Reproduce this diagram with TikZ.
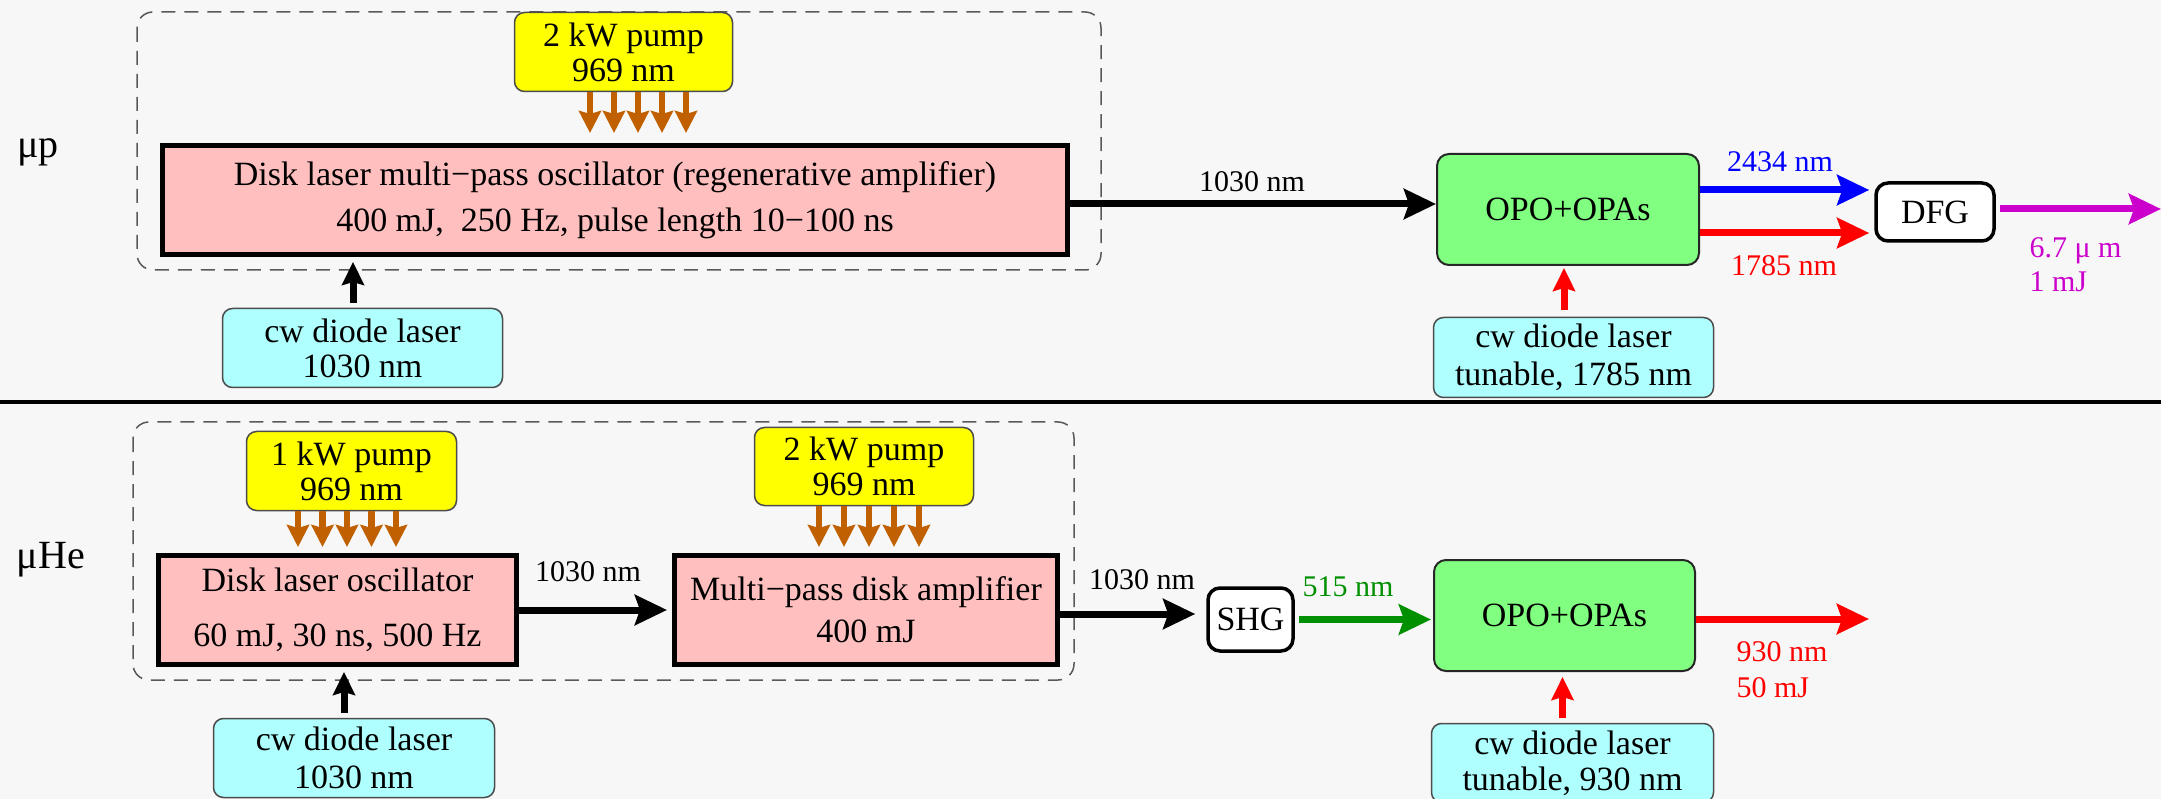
\documentclass[tikz,border=0pt]{standalone}
\usepackage{fontspec}
\setmainfont{Liberation Serif}
\usetikzlibrary{arrows.meta}
\definecolor{bg}{HTML}{F7F7F7}
\definecolor{laserpink}{HTML}{FFBFBF}
\definecolor{pumpyellow}{HTML}{FFFF00}
\definecolor{cwcyan}{HTML}{AFFFFF}
\definecolor{opogreen}{HTML}{80FF80}
\definecolor{pumpbrown}{HTML}{C06000}
\definecolor{beamgreen}{HTML}{009000}
\definecolor{beammag}{HTML}{CC00CC}

\begin{document}
\begin{tikzpicture}[x=1pt, y=-1pt,
  boxfont/.style={font=\fontsize{34}{36}\selectfont, align=center},
  lbl/.style={font=\fontsize{30}{34}\selectfont},
  pumpbox/.style={boxfont, draw=black!70, line width=1.5pt, fill=pumpyellow, rounded corners=10pt},
  lasbox/.style={boxfont, draw=black, line width=5pt, fill=laserpink},
  cwbox/.style={boxfont, draw=black!70, line width=1.5pt, fill=cwcyan, rounded corners=10pt},
  opobox/.style={boxfont, draw=black!85, line width=2pt, fill=opogreen, rounded corners=12pt},
  convbox/.style={boxfont, draw=black, line width=3.5pt, fill=white, rounded corners=12pt},
  group/.style={draw=black!65, line width=1.5pt, dash pattern=on 14pt off 9pt, rounded corners=16pt},
  beam/.style={line width=7pt, -{Stealth[length=32pt, width=30pt, inset=5pt]}},
  feed/.style={line width=7pt, -{Stealth[length=23pt, width=22pt, inset=3pt]}},
  pumpar/.style={pumpbrown, line width=6.5pt, -{Stealth[length=22pt, width=22pt, inset=3pt]}}]
  \useasboundingbox[fill=bg] (0,0) rectangle (2161,799);

  % muonic hydrogen laser
  \node[font=\fontsize{40}{40}\selectfont] (tagp) at (38,152) {μp};
  \draw[group] (137,12) rectangle (1101,270);
  \node[pumpbox, minimum width=218pt, minimum height=79pt] (pumpA)
        at (623.5,52) {2 kW pump\\[-1pt]969 nm};
  \node[lasbox, minimum width=905pt, minimum height=109pt] (mainA)
        at (615,200) {Disk laser multi−pass oscillator (regenerative amplifier)\\[10pt]400 mJ,\ \ 250 Hz, pulse length 10−100 ns};
  \node[cwbox, minimum width=280pt, minimum height=79pt] (cwA)
        at (362.5,348) {cw diode laser\\[-1pt]1030 nm};
  \node[opobox, minimum width=262pt, minimum height=111pt] (opoA)
        at (1568,209.5) {OPO+OPAs};
  \node[cwbox, minimum width=280pt, minimum height=80pt] (cwB)
        at (1573.5,357.5) {cw diode laser\\[2pt]tunable, 1785 nm};
  \node[convbox, minimum width=118pt, minimum height=58pt] (dfg)
        at (1935,212) {DFG};
  \coordinate (endA) at (2161,209);
  % labels
  \node[lbl] (lblA) at (1252,182) {1030 nm};
  \node[lbl, blue] (lblidl) at (1780,162) {2434 nm};
  \node[lbl, red] (lblsig) at (1784,266) {1785 nm};
  \node[lbl, beammag, align=left, anchor=west] (lblout) at (2026,265) {6.7 μ m\\1 mJ};
  % arrows
  \foreach \dx in {-33.5,-9.5,14.5,38.5,62.5} {
    \path ([xshift=\dx pt]pumpA.south) coordinate (pp);
    \draw[pumpar, shorten >=10pt] (pp) -- (pp |- mainA.north);
  }
  \path ([xshift=-9.5pt]cwA.north) coordinate (fa);
  \draw[feed, shorten <=5pt, shorten >=5pt] (fa) -- (fa |- mainA.south);
  \path ([yshift=-4pt]mainA.east) coordinate (ma);
  \draw[beam] (ma) -- (ma -| opoA.west);
  \path ([xshift=-9.5pt]cwB.north) coordinate (fb);
  \draw[feed, red, shorten <=7pt, shorten >=2pt] (fb) -- (fb |- opoA.south);
  \path ([yshift=19.5pt]opoA.east) coordinate (oi);
  \draw[beam, blue, shorten >=5pt] (oi) -- (oi -| dfg.west);
  \path ([yshift=-23.5pt]opoA.east) coordinate (os);
  \draw[beam, red, shorten >=5pt] (os) -- (os -| dfg.west);
  \draw[beam, beammag, shorten <=4pt] (dfg.east |- endA) -- (endA);

  \draw[line width=3.5pt] (0,402) -- (2161,402);

  % muonic helium laser
  \node[font=\fontsize{40}{40}\selectfont] (taghe) at (51,560) {μHe};
  \draw[group] (133,422) rectangle (1074,680);
  \node[pumpbox, minimum width=210pt, minimum height=79pt] (pumpB)
        at (351.5,471) {1 kW pump\\[-1pt]969 nm};
  \node[lasbox, minimum width=358pt, minimum height=109pt] (osc)
        at (337.5,610) {Disk laser oscillator\\[19pt]60 mJ, 30 ns, 500 Hz};
  \node[pumpbox, minimum width=219pt, minimum height=78pt] (pumpC)
        at (864,466.5) {2 kW pump\\[-1pt]969 nm};
  \node[lasbox, minimum width=383pt, minimum height=109pt] (amp)
        at (866,610) {Multi−pass disk amplifier\\[6pt]400 mJ};
  \node[cwbox, minimum width=281pt, minimum height=79pt] (cwC)
        at (354,758) {cw diode laser\\[2pt]1030 nm};
  \node[convbox, minimum width=85pt, minimum height=63pt] (shg)
        at (1250.5,619.5) {SHG};
  \node[opobox, minimum width=261pt, minimum height=111pt] (opoB)
        at (1564.5,615.5) {OPO+OPAs};
  \node[cwbox, minimum width=282pt, minimum height=79pt] (cwD)
        at (1572.5,763) {cw diode laser\\[0pt]tunable, 930 nm};
  \coordinate (endB) at (1869,619);
  % labels
  \node[lbl] (lblB) at (588,572) {1030 nm};
  \node[lbl] (lblC) at (1142,580) {1030 nm};
  \node[lbl, beamgreen] (lblgr) at (1348,587) {515 nm};
  \node[lbl, red, align=left, anchor=west] (lblred) at (1733,670) {930 nm\\[2pt]50 mJ};
  % arrows
  \foreach \dx in {-53.5,-29,-4.5,20,44.5} {
    \path ([xshift=\dx pt]pumpB.south) coordinate (pp);
    \draw[pumpar, shorten >=6pt] (pp) -- (pp |- osc.north);
  }
  \foreach \dx in {-45,-20,5,30,55} {
    \path ([xshift=\dx pt]pumpC.south) coordinate (pp);
    \draw[pumpar, shorten >=6pt] (pp) -- (pp |- amp.north);
  }
  \path ([xshift=-10pt]cwC.north) coordinate (fc);
  \draw[feed, shorten <=5pt, shorten >=5pt] (fc) -- (fc |- osc.south);
  \draw[beam, shorten >=5pt] (osc.east) -- (amp.west);
  \path ([yshift=-4pt]amp.east) coordinate (aa);
  \draw[beam, shorten >=11pt] (aa) -- (aa -| shg.west);
  \draw[beam, beamgreen, shorten <=4pt, shorten >=2pt] (shg.east) -- (shg.east -| opoB.west);
  \draw[beam, red] (opoB.east |- endB) -- (endB);
  \path ([xshift=-10pt]cwD.north) coordinate (fd);
  \draw[feed, red, shorten <=5pt, shorten >=5pt] (fd) -- (fd |- opoB.south);
\end{tikzpicture}
\end{document}
